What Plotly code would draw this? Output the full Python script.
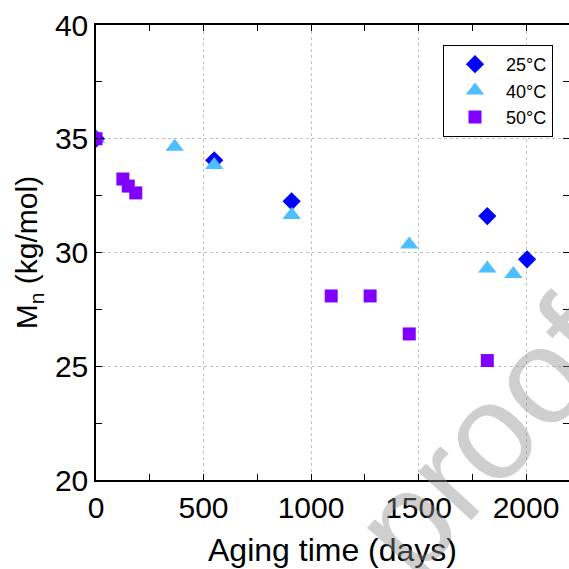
import plotly.graph_objects as go

# Data
t25 = [0, 550, 910, 1820, 2005]
m25 = [35.0, 34.05, 32.25, 31.6, 29.7]

t40 = [0, 366, 550, 910, 1457, 1820, 1941]
m40 = [35.0, 34.65, 33.85, 31.65, 30.35, 29.3, 29.05]

t50 = [0, 125, 150, 185, 1094, 1275, 1457, 1820]
m50 = [35.0, 33.23, 32.92, 32.62, 28.09, 28.09, 26.42, 25.25]

x_ticks = [0, 500, 1000, 1500, 2000]
y_ticks = [20, 25, 30, 35, 40]

W, H = 569, 569
ML, MR, MT, MB = 96, 0, 25, 89
FONT = "Liberation Sans, Arial, sans-serif"

fig = go.Figure()
fig.add_trace(go.Scatter(x=t25, y=m25, mode="markers", name="25°C",
                         marker=dict(symbol="diamond", size=14, color="#0000FF")))
fig.add_trace(go.Scatter(x=t40, y=m40, mode="markers", name="40°C",
                         marker=dict(symbol="triangle-up", size=16, color="#4DBEFF")))
fig.add_trace(go.Scatter(x=t50, y=m50, mode="markers", name="50°C",
                         marker=dict(symbol="square", size=13, color="#7F00FF")))

axis_common = dict(
    showline=True, linecolor="black", linewidth=1.5, mirror="ticks",
    ticks="inside", ticklen=6, tickwidth=1.2, tickcolor="black",
    showgrid=True, gridcolor="#c0c0c0", gridwidth=1, griddash="dot",
    zeroline=False, tickfont=dict(family=FONT, size=30, color="black"),
)

fig.update_xaxes(range=[0, 2200], tickvals=x_ticks,
                 minor=dict(dtick=250, ticks="inside", ticklen=6, tickcolor="black", showgrid=False),
                 title=dict(text="Aging time (days)", font=dict(family=FONT, size=32, color="black"), standoff=16),
                 **axis_common)
fig.update_yaxes(range=[20, 40], tickvals=y_ticks,
                 minor=dict(dtick=2.5, ticks="inside", ticklen=6, tickcolor="black", showgrid=False),
                 title=dict(text="M<sub>n</sub> (kg/mol)", font=dict(family=FONT, size=30, color="black"), standoff=8),
                 **axis_common)

pw = W - ML - MR
ph = H - MT - MB
def px(xp):
    return (xp - ML) / pw
def py(yp):
    return 1 - (yp - MT) / ph

fig.add_annotation(text="proof", xref="paper", yref="paper",
                   x=px(484), y=py(437), showarrow=False, textangle=-47.5,
                   font=dict(family=FONT, size=136, color="rgba(140,140,140,0.42)"),
                   xanchor="center", yanchor="middle")

fig.update_layout(
    width=W, height=H,
    margin=dict(l=ML, r=MR, t=MT, b=MB, autoexpand=False),
    plot_bgcolor="white", paper_bgcolor="white",
    font=dict(family=FONT, color="black"),
    legend=dict(x=px(443), y=py(45), xanchor="left", yanchor="top",
                bordercolor="black", borderwidth=1, bgcolor="white",
                font=dict(family=FONT, size=18, color="black"),
                itemsizing="trace", itemwidth=52, tracegroupgap=0),
)

fig.write_html("out.html")
